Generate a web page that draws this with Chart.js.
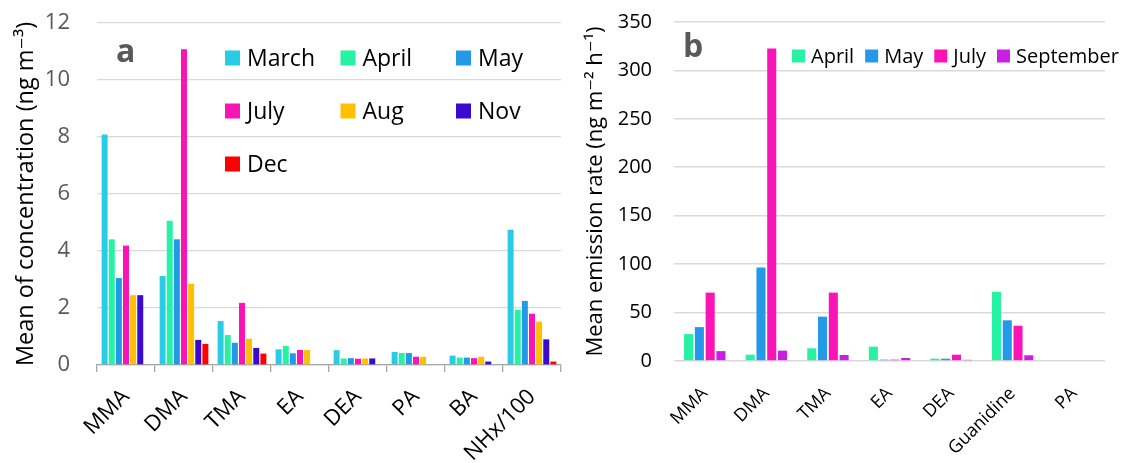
<!DOCTYPE html>
<html>
<head>
<meta charset="utf-8">
<script src="https://cdn.jsdelivr.net/npm/chart.js@4.4.1/dist/chart.umd.min.js"></script>
<style>
  html, body { margin: 0; padding: 0; background: #fff; }
  #wrap { position: relative; width: 1134px; height: 463px; overflow: hidden; }
  #chartA { position: absolute; left: 0; top: 0; }
  #chartB { position: absolute; left: 583px; top: 0; }
</style>
</head>
<body>
<div id="wrap">
  <canvas id="chartA" width="575" height="463"></canvas>
  <canvas id="chartB" width="551" height="463"></canvas>
</div>
<script>
// Panel a: mean concentration (ng m-3)
const categoriesA = ['MMA', 'DMA', 'TMA', 'EA', 'DEA', 'PA', 'BA', 'NHx/100'];
const marchA = [8.09, 3.12, 1.54, 0.55, 0.52, 0.46, 0.33, 4.75];
const aprilA = [4.41, 5.06, 1.05, 0.67, 0.23, 0.42, 0.26, 1.94];
const mayA = [3.05, 4.41, 0.78, 0.41, 0.24, 0.42, 0.26, 2.25];
const julyA = [4.19, 11.08, 2.18, 0.53, 0.22, 0.29, 0.24, 1.80];
const augA = [2.45, 2.85, 0.92, 0.53, 0.23, 0.29, 0.29, 1.52];
const novA = [2.45, 0.88, 0.60, null, 0.23, null, 0.12, 0.90];
const decA = [null, 0.74, 0.40, null, null, null, null, 0.12];
const ticksA = [0, 2, 4, 6, 8, 10, 12];

// Panel b: mean emission rate (ng m-2 h-1)
const categoriesB = ['MMA', 'DMA', 'TMA', 'EA', 'DEA', 'Guanidine', 'PA'];
const aprilB = [27.8, 6.5, 13.1, 14.8, 2.4, 71.5, 0];
const mayB = [35.0, 96.5, 45.8, 1.4, 2.4, 42.0, 0];
const julyB = [70.6, 322.7, 70.6, 1.4, 6.5, 36.4, 0];
const septB = [10.2, 10.7, 6.2, 3.1, 1.2, 5.9, 0];
const ticksB = [0, 50, 100, 150, 200, 250, 300, 350];

const FONT = '"Open Sans", "DejaVu Sans", sans-serif';
const colors = {
  March: '#29CCE4',
  April: '#25F2A2',
  May: '#2499E8',
  July: '#FA14B8',
  Aug: '#FFC000',
  Nov: '#3A0BCE',
  Dec: '#FF0000',
  September: '#C81FE2'
};

function bar(label, data) {
  return {
    label: label,
    data: data,
    backgroundColor: colors[label],
    borderWidth: 0
  };
}

// draws the panel letter and the in-plot legend
const panelDecor = {
  id: 'panelDecor',
  afterDraw(chart, args, opts) {
    const ctx = chart.ctx;
    ctx.save();
    ctx.font = 'bold 32px ' + FONT;
    ctx.fillStyle = '#595959';
    ctx.textBaseline = 'alphabetic';
    ctx.textAlign = 'left';
    ctx.fillText(opts.letter, opts.letterX, opts.letterY);

    ctx.font = opts.fontSize + 'px ' + FONT;
    ctx.textBaseline = 'middle';
    let x = opts.x;
    chart.data.datasets.forEach((ds, i) => {
      let y = opts.y;
      if (opts.columns) {
        x = opts.x + (i % opts.columns) * opts.colWidth;
        y = opts.y + Math.floor(i / opts.columns) * opts.rowHeight;
      }
      ctx.fillStyle = ds.backgroundColor;
      ctx.fillRect(x, y - opts.box / 2, opts.box, opts.box);
      ctx.fillStyle = '#000';
      ctx.fillText(ds.label, x + opts.box + opts.gap, y + 1);
      if (!opts.columns) {
        x += opts.box + opts.gap + ctx.measureText(ds.label).width + opts.itemGap;
      }
    });
    ctx.restore();
  }
};

const chartA = new Chart(document.getElementById('chartA'), {
  type: 'bar',
  data: {
    labels: categoriesA,
    datasets: [
      bar('March', marchA),
      bar('April', aprilA),
      bar('May', mayA),
      bar('July', julyA),
      bar('Aug', augA),
      bar('Nov', novA),
      bar('Dec', decA)
    ]
  },
  options: {
    responsive: false,
    animation: false,
    layout: { padding: { top: 23, right: 14, left: 0, bottom: 0 } },
    datasets: { bar: { categoryPercentage: 0.86, barPercentage: 0.84 } },
    plugins: {
      legend: { display: false },
      tooltip: { enabled: false },
      panelDecor: {
        letter: 'a', letterX: 116, letterY: 62,
        fontSize: 23, box: 15, gap: 7,
        x: 225, y: 58, columns: 3, colWidth: 115.5, rowHeight: 53
      }
    },
    scales: {
      x: {
        grid: { offset: true, drawOnChartArea: false, drawTicks: true, tickLength: 7, color: '#a6a6a6', lineWidth: 1.3 },
        border: { display: true, color: '#a6a6a6', width: 1.3 },
        ticks: { color: '#000', font: { family: FONT, size: 22 }, minRotation: 45, maxRotation: 45, padding: 12 },
        afterFit: (scale) => { scale.height = 98; }
      },
      y: {
        min: 0,
        max: 12,
        afterBuildTicks: (scale) => { scale.ticks = ticksA.map(v => ({ value: v })); },
        grid: { color: '#d9d9d9', lineWidth: 1.3, drawTicks: false },
        border: { display: false },
        ticks: { color: '#595959', font: { family: FONT, size: 22 }, padding: 27 },
        title: {
          display: true,
          text: 'Mean of concentration (ng m\u207B\u00B3)',
          color: '#000',
          font: { family: FONT, size: 23.5 },
          padding: { top: 12, bottom: 0 }
        },
        afterFit: (scale) => {
          scale.width = 97;
          scale.paddingTop = 0;
          scale.paddingBottom = 0;
        }
      }
    }
  },
  plugins: [panelDecor]
});

const chartB = new Chart(document.getElementById('chartB'), {
  type: 'bar',
  data: {
    labels: categoriesB,
    datasets: [
      bar('April', aprilB),
      bar('May', mayB),
      bar('July', julyB),
      bar('September', septB)
    ]
  },
  options: {
    responsive: false,
    animation: false,
    layout: { padding: { top: 22, right: 29, left: 0, bottom: 0 } },
    datasets: { bar: { categoryPercentage: 0.7, barPercentage: 0.84 } },
    plugins: {
      legend: { display: false },
      tooltip: { enabled: false },
      panelDecor: {
        letter: 'b', letterX: 100, letterY: 57,
        fontSize: 20, box: 13, gap: 6,
        x: 209, y: 56, itemGap: 11
      }
    },
    scales: {
      x: {
        grid: { display: false },
        border: { display: false },
        ticks: { color: '#000', font: { family: FONT, size: 18 }, minRotation: 45, maxRotation: 45, padding: 14 },
        afterFit: (scale) => { scale.height = 102; }
      },
      y: {
        min: 0,
        max: 350,
        afterBuildTicks: (scale) => { scale.ticks = ticksB.map(v => ({ value: v })); },
        grid: { color: '#d9d9d9', lineWidth: 1.6, drawTicks: false },
        border: { display: false },
        ticks: { color: '#000', font: { family: FONT, size: 20 }, padding: 22 },
        title: {
          display: true,
          text: 'Mean emission rate (ng m\u207B\u00B2 h\u207B\u00B9)',
          color: '#000',
          font: { family: FONT, size: 22 },
          padding: { top: 0, bottom: 0 }
        },
        afterFit: (scale) => {
          scale.width = 91;
          scale.paddingTop = 0;
          scale.paddingBottom = 0;
        }
      }
    }
  },
  plugins: [panelDecor]
});
</script>
</body>
</html>
